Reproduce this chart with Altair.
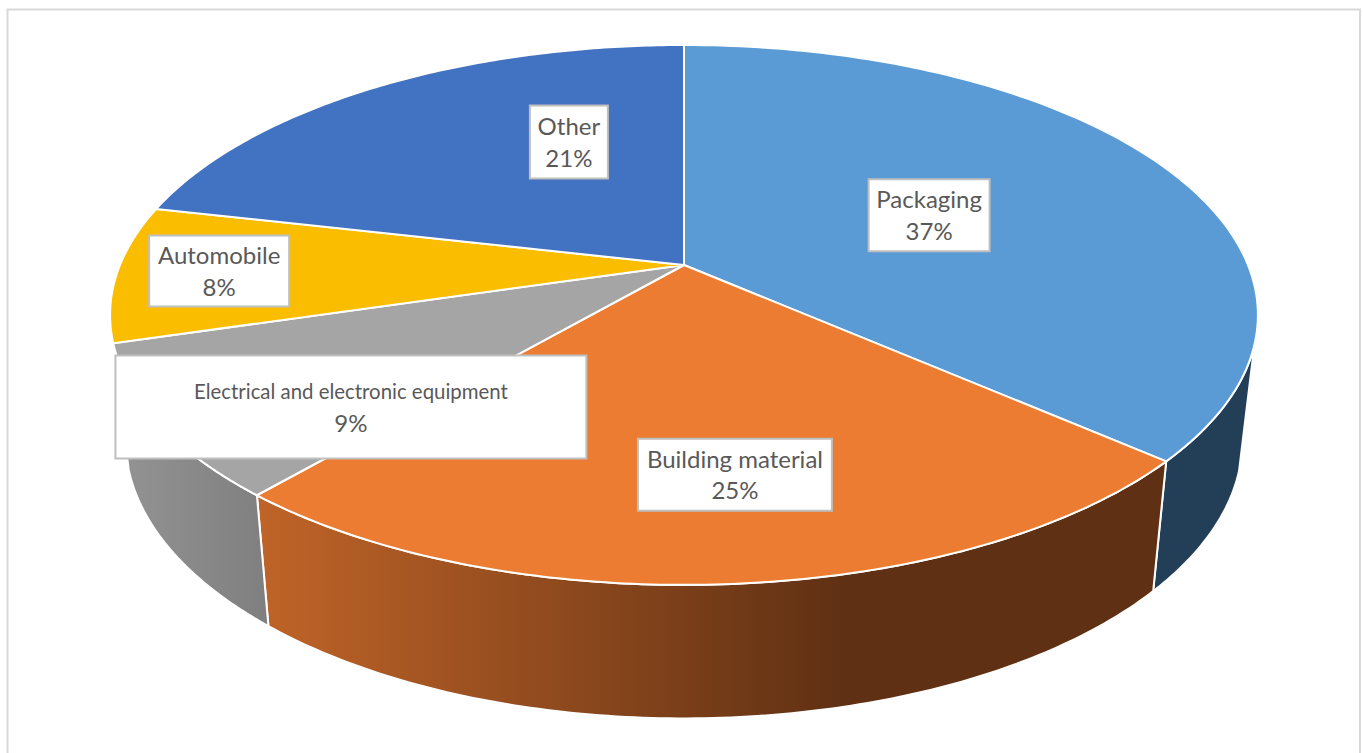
import numpy as np
import pandas as pd
import altair as alt

# Sector names and their share of the total, clockwise from twelve o'clock
categories = ["Packaging", "Building material", "Electrical and electronic equipment", "Automobile", "Other"]
shares = [37, 25, 9, 8, 21]
top_colors = ["#5B9BD5", "#EB7C31", "#A5A5A5", "#FBBD00", "#4272C2"]

# Perspective disc: rim projection parameters in canvas units
CX, CY = 684.0, 265.0
RX, RY, TILT = 564.0, 260.7, 0.185
# Slight angular distortion of the 3D view along the rim, in degrees
WARP_COS, WARP_SIN = 1.3, 0.5
# The lower rim of the extruded disc
DEPTH_SCALE_X, DEPTH_SCALE_Y, DEPTH_SHIFT_Y = 0.973, 1.03, 116.0
W, H = 1363, 753

# Where each label box sits on the disc (angle in degrees, radius) and its half size
label_angle = [66.3, 173.6, 227.3, 268.4, 336.6]
label_radius = [0.492, 0.705, 0.73, 0.821, 0.563]
label_half_w = [60.5, 97, 235.5, 70, 39]
label_half_h = [36, 36, 51.5, 35.5, 36.5]
label_font = [24, 24, 20.4, 24, 24]
percent_font = [24, 24, 24, 24, 24]


def project(theta_deg, radius=1.0):
    t = np.radians(np.asarray(theta_deg, dtype=float))
    px, py = radius * np.sin(t), radius * np.cos(t)
    d = 1 + TILT * py
    return CX + RX * px / d, CY - RY * py / d


def rim(theta_deg):
    t = np.radians(theta_deg)
    return project(theta_deg - WARP_COS * (1 - np.cos(t)) + WARP_SIN * np.sin(t))


def lower(x, y):
    return CX + (x - CX) * DEPTH_SCALE_X, y * DEPTH_SCALE_Y + DEPTH_SHIFT_Y


def frame_of(x, y):
    return pd.DataFrame({"x": x, "y": y, "i": np.arange(len(x))})


def wedge(a0, a1):
    ax, ay = rim(np.linspace(a0, a1, 120))
    x = np.r_[CX, ax, CX]
    y = np.r_[CY, ay, CY]
    return frame_of(x, y)


def wall(a0, a1):
    ax, ay = rim(np.linspace(a0, a1, 120))
    bx, by = lower(ax, ay)
    x = np.r_[ax, bx[::-1], ax[0]]
    y = np.r_[ay, by[::-1], ay[0]]
    return frame_of(x, y)


edges = 3.6 * np.r_[0, np.cumsum(shares)]

X = alt.X("x:Q", scale=alt.Scale(domain=[0, W], nice=False, zero=False), axis=None)
Y = alt.Y("y:Q", scale=alt.Scale(domain=[H, 0], nice=False, zero=False), axis=None)


def polygon(df, fill, width=2):
    return alt.Chart(df).mark_line(
        fill=fill, stroke="white", strokeWidth=width, strokeJoin="round"
    ).encode(x=X, y=Y, order=alt.Order("i:Q"))


def shade(stops):
    return alt.Gradient(
        gradient="linear", x1=0, x2=1, y1=0, y2=0,
        stops=[alt.GradientStop(offset=o, color=c) for o, c in stops],
    )


layers = []

# Outer chart frame
border = pd.DataFrame({"x": [7.5], "x2": [1360], "y": [9.5], "y2": [H + 20]})
layers.append(
    alt.Chart(border).mark_rect(fill="white", stroke="#D9D9D9", strokeWidth=2, clip=True).encode(
        x=X, x2="x2:Q", y=Y, y2="y2:Q"
    )
)

# Side walls of the slices facing the viewer
layers.append(polygon(wall(108, edges[1]), "#223F57"))
layers.append(polygon(wall(edges[1], edges[2]), shade([(0, "#C06428"), (0.65, "#5F3013"), (1, "#5F3013")])))
layers.append(polygon(wall(edges[2], edges[3]), shade([(0, "#949494"), (1, "#7F7F7F")])))

# Top face of the disc
for i, color in enumerate(top_colors):
    layers.append(polygon(wedge(edges[i], edges[i + 1]), color))

# Data labels: white box, category name, percentage
lx, ly = project(label_angle, np.array(label_radius))
lx = np.asarray(lx)
ly = np.asarray(ly)
boxes = pd.DataFrame({
    "x": lx - np.array(label_half_w), "x2": lx + np.array(label_half_w),
    "y": ly - np.array(label_half_h), "y2": ly + np.array(label_half_h),
})
layers.append(
    alt.Chart(boxes).mark_rect(fill="white", stroke="#BFBFBF", strokeWidth=2).encode(
        x=X, x2="x2:Q", y=Y, y2="y2:Q"
    )
)

names = pd.DataFrame({"x": lx, "y": ly - 14, "t": categories, "s": label_font})
percents = pd.DataFrame({"x": lx, "y": ly + 17.5, "t": [f"{v}%" for v in shares], "s": percent_font})
for df in (names, percents):
    layers.append(
        alt.Chart(df).mark_text(font="Lato", color="#595959", align="center", baseline="middle").encode(
            x=X, y=Y, text="t:N", size=alt.Size("s:Q", scale=None, legend=None)
        )
    )

chart = alt.layer(*layers).properties(
    width=W, height=H, padding=0,
    autosize=alt.AutoSizeParams(type="fit", contains="padding"),
    background="white",
).configure_view(stroke=None)

chart.save("out.html", embed_options={"renderer": "svg", "actions": False})
